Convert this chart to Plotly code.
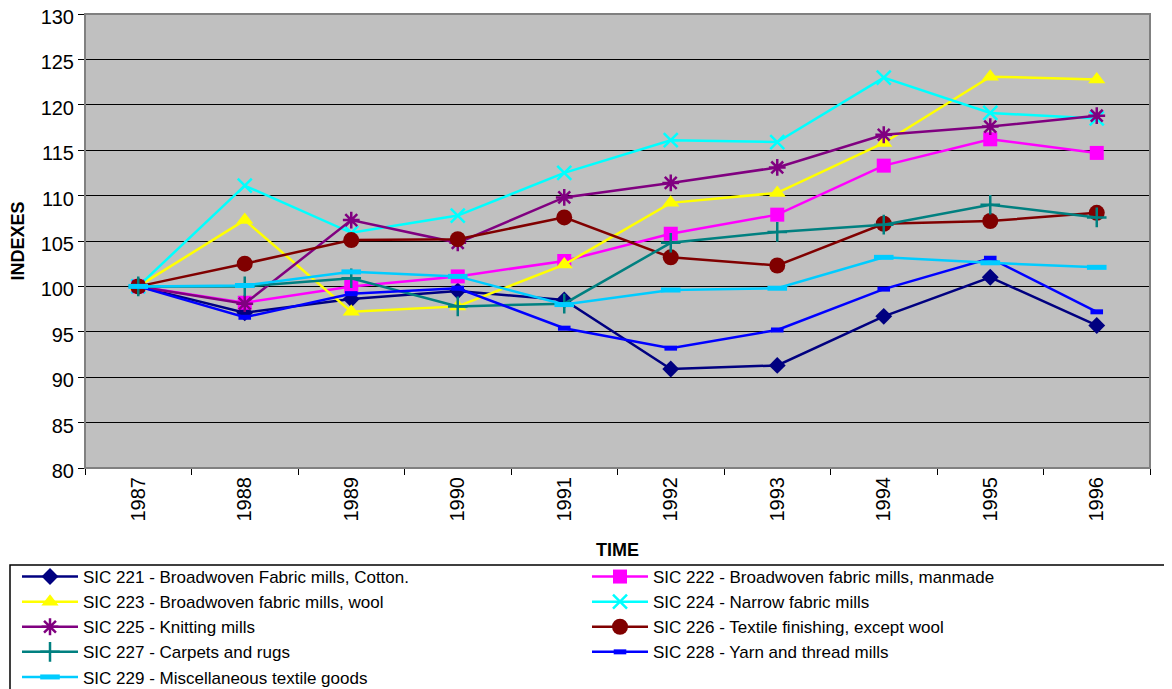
import plotly.graph_objects as go

years = ["1987", "1988", "1989", "1990", "1991", "1992", "1993", "1994", "1995", "1996"]

sic221 = [100, 97.1, 98.6, 99.5, 98.5, 90.9, 91.3, 96.7, 101.0, 95.7]
sic222 = [100, 98.2, 100.0, 101.1, 102.8, 105.8, 107.9, 113.3, 116.2, 114.7]
sic223 = [100, 107.3, 97.2, 97.8, 102.4, 109.2, 110.3, 115.8, 123.1, 122.8]
sic224 = [100, 111.1, 105.9, 107.8, 112.5, 116.1, 115.9, 123.0, 119.1, 118.5]
sic225 = [100, 98.1, 107.3, 104.8, 109.8, 111.4, 113.1, 116.7, 117.6, 118.8]
sic226 = [100, 102.5, 105.1, 105.2, 107.6, 103.2, 102.3, 106.9, 107.2, 108.1]
sic227 = [100, 100.0, 100.9, 97.8, 98.1, 104.8, 106.0, 106.8, 109.0, 107.6]
sic228 = [100, 96.6, 99.2, 99.8, 95.4, 93.2, 95.2, 99.7, 103.1, 97.2]
sic229 = [100, 100.1, 101.6, 101.1, 98.0, 99.6, 99.8, 103.2, 102.6, 102.1]

names = [
    "SIC 221 - Broadwoven Fabric mills, Cotton.",
    "SIC 222 - Broadwoven fabric mills, manmade",
    "SIC 223 - Broadwoven fabric mills, wool",
    "SIC 224 - Narrow fabric mills",
    "SIC 225 - Knitting mills",
    "SIC 226 - Textile finishing, except wool",
    "SIC 227 - Carpets and rugs",
    "SIC 228 - Yarn and thread mills",
    "SIC 229 - Miscellaneous textile goods",
]
series = [sic221, sic222, sic223, sic224, sic225, sic226, sic227, sic228, sic229]

styles = [
    dict(color="#000080", symbol="diamond", size=13, lw=0),
    dict(color="#FF00FF", symbol="square", size=14, lw=0),
    dict(color="#FFFF00", symbol="triangle-up", size=15, lw=0),
    dict(color="#00FFFF", symbol="x-thin-open", size=14, lw=2.5),
    dict(color="#800080", symbol="asterisk-open", size=14, lw=2.5),
    dict(color="#800000", symbol="circle", size=16, lw=0),
    dict(color="#008080", symbol="cross-thin-open", size=14, lw=2.5),
    dict(color="#0000FF", symbol="line-ew-open", size=9, lw=5),
    dict(color="#00CCFF", symbol="line-ew-open", size=14, lw=5),
]

fig = go.Figure()
for nm, ys, st in zip(names, series, styles):
    fig.add_trace(go.Scatter(
        x=years, y=ys, name=nm, mode="lines+markers",
        line=dict(color=st["color"], width=2.5),
        marker=dict(symbol=st["symbol"], size=st["size"], color=st["color"],
                    line=dict(color=st["color"], width=st["lw"])),
    ))

# page has an 8px body margin; work in window pixel coords
OFF = 8
W, H = 1172 - OFF, 689 - OFF
ml, mr, mt, mb = 85 - OFF, 22, 14 - OFF, 221
pw, ph = W - ml - mr, H - mt - mb

def px_x(p):
    return (p - OFF - ml) / pw

def px_y(p):
    return (H - mb - (p - OFF)) / ph

font = "Liberation Sans, Arial, sans-serif"

fig.update_layout(
    width=W, height=H,
    margin=dict(l=ml, r=mr, t=mt, b=mb, autoexpand=False),
    paper_bgcolor="white",
    plot_bgcolor="#C0C0C0",
    font=dict(family=font, size=18, color="black"),
    xaxis=dict(
        type="category", range=[-0.5, len(years) - 0.5],
        tickangle=-90, ticks="outside", tickson="boundaries",
        ticklen=6, tickcolor="black", showgrid=False,
        showline=True, linecolor="black", linewidth=1,
        title=dict(text="<b>TIME</b>", font=dict(size=18), standoff=22),
        tickfont=dict(size=20),
    ),
    yaxis=dict(
        range=[80, 130], dtick=5, ticks="outside", ticklen=6, tickcolor="black",
        showgrid=True, gridcolor="black", gridwidth=1,
        showline=True, linecolor="black", linewidth=1, zeroline=False,
        title=dict(text="<b>INDEXES</b>", font=dict(size=18), standoff=16),
        tickfont=dict(size=20), ticklabeloverflow="allow", ticklabelshift=3,
    ),
    legend=dict(
        orientation="h", x=px_x(17), y=px_y(559), xanchor="left", yanchor="top",
        entrywidth=499, entrywidthmode="pixels", traceorder="normal",
        font=dict(size=17), bgcolor="rgba(0,0,0,0)", itemwidth=56,
        tracegroupgap=0,
    ),
    shapes=[
        dict(type="rect", xref="paper", yref="paper", x0=0, x1=1, y0=0, y1=1,
             line=dict(color="#808080", width=2), fillcolor="rgba(0,0,0,0)", layer="above"),
        dict(type="rect", xref="paper", yref="paper", x0=px_x(10), x1=px_x(1168),
             y0=px_y(700), y1=px_y(565), line=dict(color="black", width=1.5),
             fillcolor="rgba(0,0,0,0)"),
    ],
)

fig.write_html("out.html")
